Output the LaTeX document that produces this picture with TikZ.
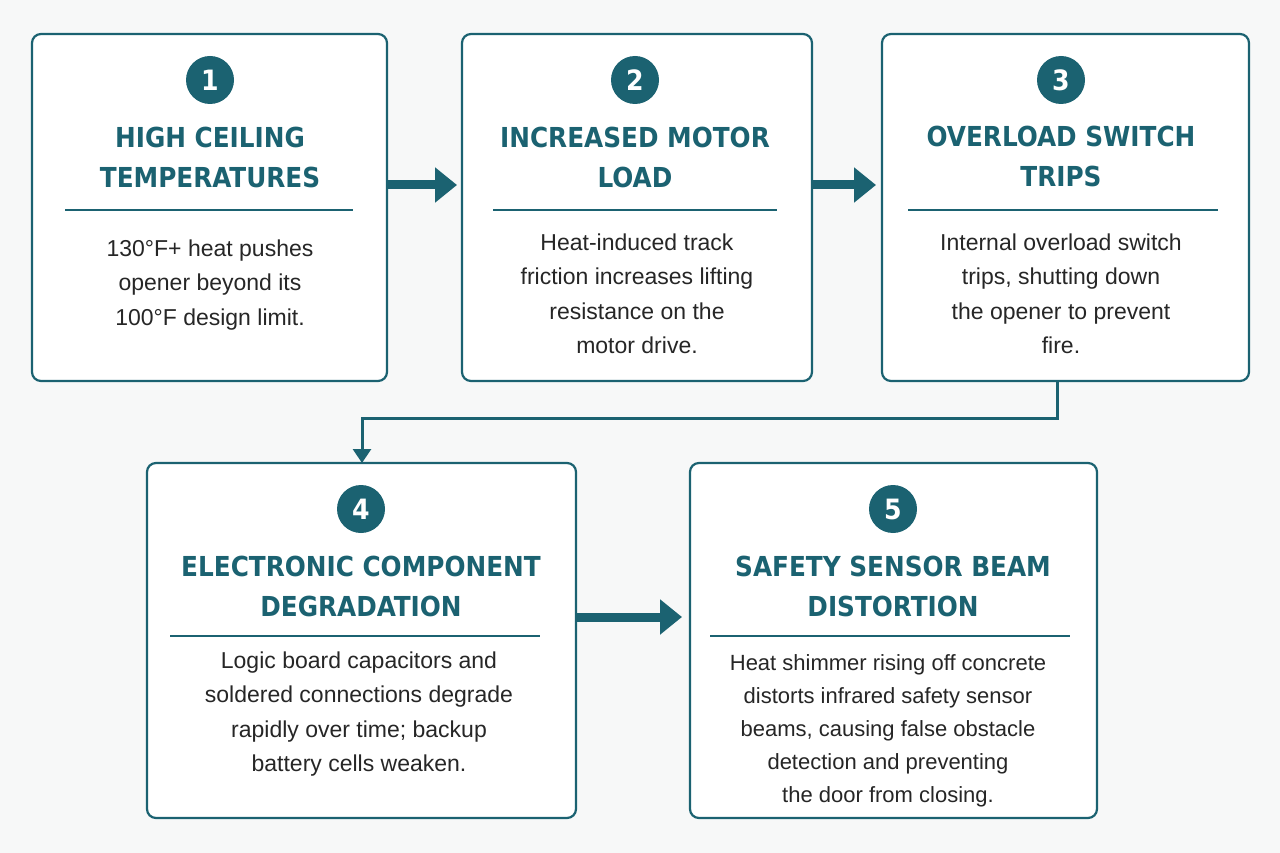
\documentclass[tikz,border=0pt]{standalone}
\usepackage{fontspec}
\setmainfont{Liberation Sans}
\newfontfamily\titlefont{DejaVu Sans Condensed}
\usetikzlibrary{positioning,arrows.meta}
\definecolor{teal}{HTML}{1B6271}
\definecolor{bg}{HTML}{F7F8F8}
\tikzset{
  box/.style={draw=teal,line width=2.2pt,rounded corners=9pt,fill=white},
  num/.style={circle,fill=teal,minimum size=48pt,inner sep=0pt,text=white,font=\titlefont\bfseries\fontsize{28}{28}\selectfont},
  ttl/.style={text=teal,align=center,font=\titlefont\bfseries\fontsize{27.5}{40}\selectfont},
  body/.style={align=center,text=black!85,font=\fontsize{23}{34.5}\selectfont},
  sep/.style={draw=teal,line width=1.3pt},
  big/.style={draw=teal,line width=9pt,-{Triangle[length=22pt,width=34pt]}},
  thin/.style={draw=teal,line width=3pt,-{Triangle[length=14pt,width=18pt]}}
}
\begin{document}
\begin{tikzpicture}[x=1pt,y=-1pt]
\fill[bg] (0,0) rectangle (1280,853);
\useasboundingbox (0,0) rectangle (1280,853);
% boxes
\draw[box] (32,34) rectangle (387,381);
\draw[box] (462,34) rectangle (812,381);
\draw[box] (882,34) rectangle (1249,381);
\draw[box] (147,463) rectangle (576,818);
\draw[box] (690,463) rectangle (1097,818);
\coordinate (r1) at (387,185); \coordinate (l2) at (457,185);
\coordinate (r2) at (812,185); \coordinate (l3) at (876,185);
\coordinate (r4) at (576,617); \coordinate (l5) at (682,617);
\coordinate (d3) at (1057,381); \coordinate (u4) at (362,463);
% step 1
\node[num] (n1) at (210,80) {1};
\node[ttl] (t1) at (210,157) {HIGH CEILING\\TEMPERATURES};
\draw[sep] (65,210) -- (353,210);
\node[body] (x1) at (210,285) {130°F+ heat pushes\\opener beyond its\\100°F design limit.};
% step 2
\node[num] (n2) at (635,80) {2};
\node[ttl] (t2) at (635,157) {INCREASED MOTOR\\LOAD};
\draw[sep] (493,210) -- (777,210);
\node[body] (x2) at (637,294) {Heat-induced track\\friction increases lifting\\resistance on the\\motor drive.};
% step 3
\node[num] (n3) at (1061,80) {3};
\node[ttl] (t3) at (1061,156) {OVERLOAD SWITCH\\TRIPS};
\draw[sep] (908,210) -- (1218,210);
\node[body] (x3) at (1061,294) {Internal overload switch\\trips, shutting down\\the opener to prevent\\fire.};
% step 4
\node[num] (n4) at (361,509) {4};
\node[ttl] (t4) at (361,586) {ELECTRONIC COMPONENT\\DEGRADATION};
\draw[sep] (170,636) -- (540,636);
\node[body] (x4) at (359,714) {Logic board capacitors and\\soldered connections degrade\\rapidly over time; backup\\battery cells weaken.};
% step 5
\node[num] (n5) at (893,509) {5};
\node[ttl] (t5) at (893,586) {SAFETY SENSOR BEAM\\DISTORTION};
\draw[sep] (710,636) -- (1070,636);
\node[body,font=\fontsize{22}{33}\selectfont] (x5) at (888,731) {Heat shimmer rising off concrete\\distorts infrared safety sensor\\beams, causing false obstacle\\detection and preventing\\the door from closing.};
% connectors
\draw[big] (r1) -- (l2);
\draw[big] (r2) -- (l3);
\draw[big] (r4) -- (l5);
\draw[thin] (d3) |- (736,418) -| (u4);
\end{tikzpicture}
\end{document}
